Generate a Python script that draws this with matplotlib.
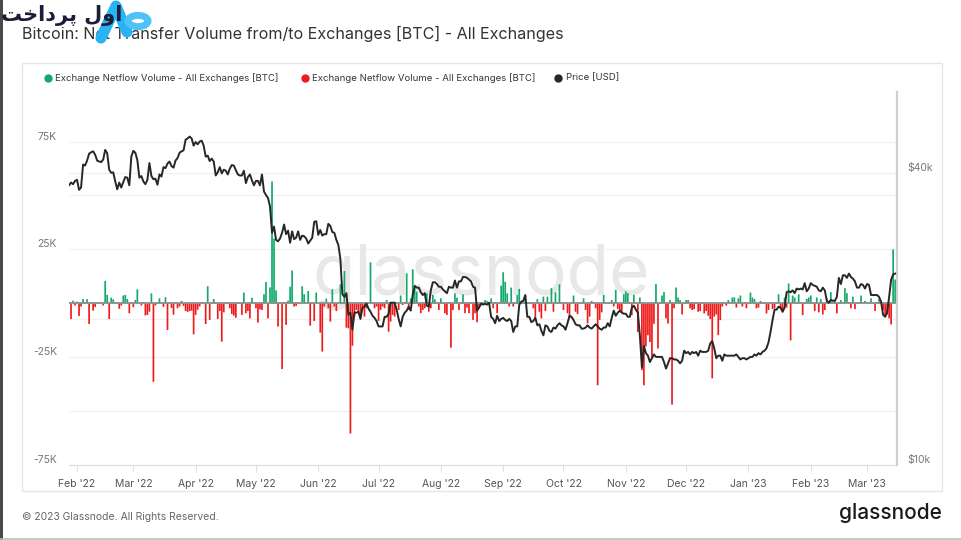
import matplotlib
matplotlib.use('Agg')
import matplotlib.pyplot as plt
import matplotlib.dates as mdates
from matplotlib.lines import Line2D
from matplotlib.patches import Rectangle, Circle
from matplotlib.ticker import NullLocator
from matplotlib.transforms import offset_copy
import numpy as np
import pandas as pd

plt.rcParams['font.family'] = ['Inter', 'DejaVu Sans']

# daily exchange netflow, thousands of BTC (first day 2022-01-28)
flow_jan22 = [0.5, -7.3, 1.2, -1.0]
flow_feb22 = [0.8, -5.9, -1.5, 2.0, 0.5, 1.9, -9.6, 0.4, -3.4, -1.7, 0.3, 0.5, 0.3, -1.0,
              10.4, 3.9, -7.3, 2.6, 1.8, 0.4, 0.5, -2.5, -1.0, 3.6, 3.9, 2.0, -4.6, 0.5]
flow_mar22 = [-1.8, 1.5, 6.5, 0.4, -1.0, 0.5, -5.6, -5.4, -3.9, 4.6, -36.4, -1.0, 0.5, 2.3,
              0.4, -1.7, 2.8, -12.4, 0.5, -2.2, -5.3, 0.4, -2.3, -1.5, 1.1, -1.2, -3.6, -4.0,
              -3.6, -3.4, -14.4]
flow_apr22 = [-5.4, -3.0, -1.5, 0.3, 0.5, -9.6, 7.9, -7.7, 0.4, 2.0, 0.5, -7.3, -3.6, -17.8,
              -4.2, 0.5, 0.3, -2.3, -5.0, -5.7, -6.7, 0.4, 0.5, -5.4, 5.0, -4.6, -3.6, -7.0,
              2.6, 0.4]
flow_may22 = [-2.3, -9.0, -2.8, -3.1, 4.2, 9.9, -7.0, 7.4, 56.5, 30.0, 6.0, -10.8, 0.5, -30.5,
              0.6, -10.0, 1.2, 7.7, 15.2, -1.5, -1.2, 0.4, 0.5, 7.9, 4.2, 0.4, 5.7, -10.4, 0.5,
              -8.2, 5.0]
flow_jun22 = [0.4, -13.6, -22.4, -1.5, 2.2, -2.3, -8.5, 6.5, -1.5, -3.6, 0.5, 8.8, 0.6, 15.0,
              -11.3, -11.6, -60.4, -19.7, -6.2, -3.1, -4.6, -5.4, -3.1, -6.2, -2.3, 0.4, 19.0,
              0.5, -2.3, -1.5]
flow_jul22 = [-8.2, -3.1, -1.5, -2.3, 1.5, -13.2, -8.5, -5.4, -6.2, 0.4, -3.1, 3.6, -0.8, 0.5,
              13.9, -3.1, 2.3, 15.8, 7.0, 5.4, -1.5, -4.6, -3.1, -2.3, 4.6, -3.9, -2.3, 3.9,
              1.9, 0.4, -3.1]
flow_aug22 = [2.3, 0.4, -4.6, -5.4, 0.5, -20.6, -3.1, 4.6, 2.6, -3.1, 0.4, 4.2, -4.6, -2.0,
              -4.6, 0.5, -7.7, -4.6, -8.8, -2.3, 0.4, 0.3, 1.5, 1.1, 0.4, 2.3, -2.3, 0.5, -4.6,
              0.4, 8.2]
flow_sep22 = [14.4, 10.0, 4.6, -1.5, 7.3, -1.5, 0.4, 3.9, 6.7, 0.5, 0.4, 3.6, 0.5, 0.3, 0.4,
              -2.3, -7.0, 1.9, -3.9, -7.0, 3.1, -3.6, 3.1, 0.4, 7.0, -3.9, 5.1, 0.5, 8.8, 0.4]
flow_oct22 = [-3.1, 0.4, -4.6, -7.0, 0.5, 3.6, -3.9, -5.0, 0.4, 0.5, 2.3, -3.1, -9.3, -6.2,
              1.1, 0.4, -2.3, -38.0, -7.7, -4.2, 3.9, 0.4, 0.5, 0.3, 1.5, -1.5, 6.2, -2.6,
              -3.9, -4.2, 4.2]
flow_nov22 = [5.5, 4.7, 0.5, -5.5, 3.9, 0.4, -13.3, 2.7, -31.0, -38.0, -20.0, -14.8, -18.0,
              -25.0, -9.5, 8.9, -21.0, 0.4, 3.6, 5.2, -7.0, -9.4, 1.5, -47.0, -2.3, 7.3, 2.7,
              1.5, -5.2, 0.4]
flow_dec22 = [1.5, 1.5, -2.3, -3.1, -2.7, 0.4, -3.9, -3.6, 0.4, -4.7, -3.6, -5.8, -7.3, -34.8,
              -6.2, -5.2, -14.8, -7.8, -1.5, 0.4, -1.1, 1.5, 0.5, 2.7, 2.7, -2.0, 2.3, 3.6,
              -1.5, 0.4, -2.3]
flow_jan23 = [0.4, 5.0, 2.7, 2.0, -2.3, -2.0, 1.1, 0.4, 0.5, -4.7, -3.1, 0.4, -2.7, -2.3, 0.5,
              4.2, -2.7, -4.2, 2.7, -2.0, 9.2, -17.2, 3.6, 2.7, 0.5, 4.2, 0.4, -5.5, 0.5, 2.0,
              2.7]
flow_feb23 = [3.6, 0.4, -3.6, 2.7, -4.2, 2.0, -5.2, -3.1, 2.3, 0.4, 5.2, 0.5, 1.5, -4.7, 0.4,
              1.5, 0.5, 7.0, 4.7, 0.4, -2.3, 3.1, -2.7, 0.5, 0.4, 3.6, 0.5, 1.1]
flow_mar23 = [0.4, 0.5, 2.3, 0.4, -3.6, 0.5, 2.0, 0.4, -3.1, -6.2, -5.2, -7.0, -9.8, 25.0, 11.0]

# daily BTC price, thousands of USD
price_jan22 = [37.7, 38.2, 37.9, 38.5]
price_feb22 = [38.7, 36.9, 37.3, 41.6, 41.4, 42.4, 43.8, 44.1, 44.3, 43.6, 42.4, 42.2, 42.1,
               42.6, 44.6, 43.9, 40.6, 40.0, 40.1, 38.4, 37.0, 38.2, 37.3, 38.3, 39.2, 39.1,
               37.7, 43.2]
price_mar22 = [44.4, 44.0, 42.5, 39.1, 39.4, 38.4, 37.9, 38.7, 41.9, 39.4, 38.8, 38.9, 37.8,
               39.7, 39.3, 41.1, 40.9, 41.8, 42.2, 41.3, 41.0, 42.4, 42.9, 44.0, 44.3, 44.5,
               46.8, 47.1, 47.5, 47.1, 45.5]
price_apr22 = [46.3, 45.8, 46.4, 46.6, 45.5, 43.2, 43.4, 42.3, 42.8, 42.2, 39.5, 40.1, 41.1,
               39.9, 40.6, 40.4, 39.7, 40.8, 41.5, 41.4, 40.5, 39.7, 39.5, 39.5, 40.4, 38.1,
               39.2, 39.7, 38.6, 37.7]
price_may22 = [38.5, 38.5, 37.7, 39.7, 36.6, 36.0, 35.5, 34.1, 30.1, 31.0, 29.1, 28.9, 29.3,
               30.1, 31.3, 29.9, 30.4, 28.7, 30.3, 29.2, 29.4, 30.3, 29.1, 29.7, 29.6, 29.3,
               28.6, 29.0, 29.4, 31.7, 31.8]
price_jun22 = [29.8, 30.5, 29.7, 29.9, 29.9, 31.4, 31.1, 30.2, 30.1, 29.1, 28.4, 26.6, 22.5,
               22.2, 22.6, 20.4, 20.6, 19.0, 20.6, 20.6, 20.7, 20.0, 21.1, 21.2, 21.5, 21.0,
               20.7, 20.3, 20.1, 19.8]
price_jul22 = [19.3, 19.3, 19.3, 20.2, 20.2, 20.5, 21.6, 21.6, 21.6, 20.9, 20.0, 19.3, 20.2,
               20.6, 20.8, 21.2, 20.8, 22.4, 23.4, 23.2, 23.2, 22.7, 22.4, 22.6, 21.3, 21.2,
               22.9, 23.8, 23.8, 23.6, 23.3]
price_aug22 = [23.3, 23.0, 22.8, 22.6, 23.3, 23.2, 23.2, 24.0, 23.2, 23.9, 23.9, 24.4, 24.4,
               24.3, 24.1, 23.9, 23.3, 23.2, 20.8, 21.1, 21.5, 21.4, 21.5, 21.4, 21.6, 20.2,
               20.0, 19.6, 20.3, 19.8, 20.0]
price_sep22 = [20.1, 19.9, 19.8, 20.0, 19.8, 18.8, 19.3, 19.3, 21.4, 21.7, 21.8, 22.4, 20.2,
               20.2, 19.7, 19.8, 20.1, 19.4, 19.5, 18.9, 18.5, 19.4, 19.3, 18.9, 18.8, 19.2,
               19.1, 19.4, 19.6, 19.4]
price_oct22 = [19.3, 19.0, 19.6, 20.3, 20.2, 19.9, 19.5, 19.4, 19.4, 19.1, 19.1, 19.2, 19.4,
               19.2, 19.1, 19.3, 19.5, 19.3, 19.1, 19.0, 19.2, 19.2, 19.6, 19.3, 20.1, 20.8,
               20.3, 20.6, 20.8, 20.6, 20.5]
price_nov22 = [20.5, 20.2, 20.2, 21.1, 21.3, 20.9, 20.6, 18.5, 15.9, 17.6, 17.0, 16.8, 16.3,
               16.6, 16.9, 16.7, 16.7, 16.7, 16.7, 16.3, 15.8, 16.2, 16.6, 16.6, 16.5, 16.5,
               16.4, 16.2, 16.4, 17.2]
price_dec22 = [17.0, 17.1, 16.9, 17.1, 17.0, 17.1, 16.8, 17.2, 17.1, 17.1, 17.1, 17.2, 17.8,
               18.0, 17.4, 16.6, 16.8, 16.8, 16.4, 16.9, 16.8, 16.8, 16.8, 16.8, 16.8, 16.9,
               16.7, 16.5, 16.6, 16.6, 16.5]
price_jan23 = [16.6, 16.7, 16.7, 16.9, 16.8, 17.0, 16.9, 17.1, 17.2, 17.4, 17.9, 18.8, 19.9,
               20.9, 20.9, 21.2, 21.1, 20.7, 21.1, 22.7, 22.8, 22.7, 22.9, 22.6, 23.1, 23.0,
               23.1, 23.0, 23.7, 22.8, 23.1]
price_feb23 = [23.7, 23.5, 23.4, 23.3, 22.9, 22.8, 23.2, 22.9, 21.8, 21.6, 21.9, 21.8, 21.8,
               22.2, 24.3, 23.6, 24.6, 24.6, 24.3, 24.8, 24.4, 24.2, 23.9, 23.2, 23.2, 23.6,
               23.5, 23.1]
price_mar23 = [23.6, 23.5, 22.4, 22.4, 22.4, 22.4, 22.2, 21.7, 20.4, 20.2, 20.6, 22.2, 24.1,
               24.7, 24.8]

left_ticks = [-75000, -25000, 25000, 75000]
left_labels = ['-75K', '-25K', '25K', '75K']
right_ticks = [10000, 40000]
right_labels = ['$10k', '$40k']

title = 'Bitcoin: Net Transfer Volume from/to Exchanges [BTC] - All Exchanges'
legend_labels = ['Exchange Netflow Volume - All Exchanges [BTC]',
                 'Exchange Netflow Volume - All Exchanges [BTC]',
                 'Price [USD]']

GREEN = '#12a96b'
RED = '#ef1b1b'
PRICE = '#272727'

flow = np.array(flow_jan22 + flow_feb22 + flow_mar22 + flow_apr22 + flow_may22 + flow_jun22 +
                flow_jul22 + flow_aug22 + flow_sep22 + flow_oct22 + flow_nov22 + flow_dec22 +
                flow_jan23 + flow_feb23 + flow_mar23) * 1000
price = np.array(price_jan22 + price_feb22 + price_mar22 + price_apr22 + price_may22 +
                 price_jun22 + price_jul22 + price_aug22 + price_sep22 + price_oct22 +
                 price_nov22 + price_dec22 + price_jan23 + price_feb23 + price_mar23) * 1000
days = pd.date_range('2022-01-28', periods=len(flow), freq='D')

W, H = 962, 540


def px(x, y):
    return x / W, 1 - y / H


fig = plt.figure(figsize=(W / 100, H / 100), dpi=100)
fig.patch.set_facecolor('white')

# card frame + screenshot edges
fig.add_artist(Rectangle(px(22, 491), 920 / W, 428 / H, transform=fig.transFigure,
                         fill=False, ec='#e6e6e6', lw=1))
fig.add_artist(Rectangle((0, 0), 3 / W, 1, transform=fig.transFigure, fc='#4a4a4a', ec='none'))
fig.add_artist(Line2D([0, 1], [1 - 538.5 / H] * 2, transform=fig.transFigure, color='#bdbdbd', lw=1.2))

ax = fig.add_axes([69 / W, 1 - 465 / H, (897 - 69) / W, (465 - 92) / H])
ax2 = ax.twinx()
ax.patch.set_visible(False)
ax2.patch.set_visible(False)

ymin, ymax = -75000, 98000
pmin, pmax = 10000, 58700
ax.set_ylim(ymin, ymax)
ax2.set_yscale('log')
ax2.set_ylim(pmin, pmax)

# grid
for v in [-75000, -50000, -25000, 25000, 50000, 75000]:
    ax.axhline(v, color='#f1f1f1', lw=1, zorder=0)
for p in [20000, 40000]:
    f = np.log10(p / pmin) / np.log10(pmax / pmin)
    ax.plot([0, 1], [f, f], transform=ax.transAxes, color='#f1f1f1', lw=1, zorder=0)

ax.text(0.4976, 0.505, 'glassnode', transform=ax.transAxes, ha='center', va='center',
        fontsize=50, color='#e8e8e8', zorder=0.5, family='Inter')

# thin daily bars, not snapped to the pixel grid so each one spreads over ~2 px
colors = [GREEN if v >= 0 else RED for v in flow]
bars = ax.bar(days, flow, width=0.85, color=colors, edgecolor='none', zorder=2, linewidth=0)
for b in bars:
    b.set_snap(False)
ax.axhline(0, color='#8e8e8e', lw=1.3, zorder=3)
ax2.plot(days, price, color=PRICE, lw=1.4, zorder=4)

ax.set_xlim(pd.Timestamp('2022-01-28'), pd.Timestamp('2023-03-15 22:00'))
ax.xaxis.set_major_locator(mdates.MonthLocator())
ax.xaxis.set_major_formatter(mdates.DateFormatter("%b '%y"))
ax.tick_params(axis='x', length=5, color='#e2e2e2', labelcolor='#555555', labelsize=7.5, pad=5)

ax.set_yticks([])
ax2.set_yticks([])
ax2.yaxis.set_minor_locator(NullLocator())

for s in ['top', 'left', 'right']:
    ax.spines[s].set_visible(False)
ax.spines['bottom'].set_color('#dedede')
for s in ['top', 'left', 'bottom']:
    ax2.spines[s].set_visible(False)
ax2.spines['right'].set_color('#d0d0d0')
ax2.spines['right'].set_linewidth(1.6)

# axis labels sit a few px above their grid lines
tl = offset_copy(ax.get_yaxis_transform(), fig=fig, x=-12, y=5, units='dots')
for v, lab in zip(left_ticks, left_labels):
    ax.text(0, v, lab, transform=tl, ha='right', va='center', fontsize=7.5, color='#777777')
tr = offset_copy(ax2.get_yaxis_transform(), fig=fig, x=10, y=5, units='dots')
for v, lab in zip(right_ticks, right_labels):
    ax2.text(1, v, lab, transform=tr, ha='left', va='center', fontsize=7.5, color='#777777')

# legend
for (dx, tx), lab, c in zip([(48, 55), (305, 312), (558, 566)], legend_labels, [GREEN, RED, PRICE]):
    fig.add_artist(Line2D([dx / W], [1 - 78 / H], marker='o', ms=5, color=c, mec=c,
                          transform=fig.transFigure))
    fig.text(*px(tx, 78), lab, fontsize=6.9, color='#333333', va='center', ha='left')

fig.text(*px(22, 34), title, fontsize=11.6, color='#333333', va='center', ha='left')

fig.text(*px(22, 517), '\u00a9 2023 Glassnode. All Rights Reserved.', fontsize=7.5,
         color='#666666', va='center', ha='left')
fig.text(*px(942, 513), 'glassnode', fontsize=15, color='#1a1a1a', va='center', ha='right',
         weight='medium')

# overlay logo (persian brand + blue mark)
fig.text(*px(1, 16), '\uFE96\uFEA7\uFE8D\uFEA9\uFEAE\uFB58 \uFEDD\uFEED\uFE8D', fontsize=15,
         color='#1d1d3a', va='center', ha='left', family='DejaVu Sans', weight='bold', zorder=6)
fig.add_artist(Line2D([101 / W, 116 / W, 127 / W], [1 - 38 / H, 1 - 6 / H, 1 - 32 / H],
                      transform=fig.transFigure, color='#29b2f4', lw=8,
                      solid_capstyle='round', solid_joinstyle='round', zorder=6))
fig.add_artist(Circle(px(138, 21), 10 / W, transform=fig.transFigure, fill=False,
                      ec='#4cc2f7', lw=5, zorder=6))

fig.savefig('out.png', dpi=100, facecolor='white')
